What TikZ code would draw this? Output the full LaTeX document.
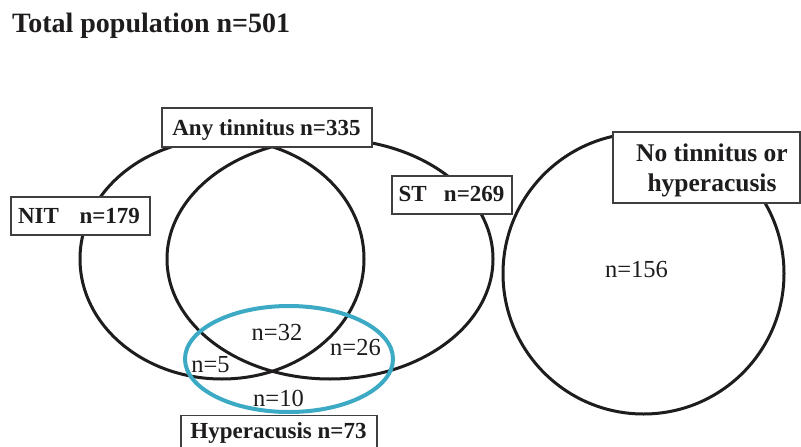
\documentclass[tikz,border=0pt]{standalone}
\usepackage{fontspec}
\setmainfont{Liberation Serif}
\definecolor{hypcyan}{RGB}{60,170,196}
\definecolor{inkblack}{RGB}{30,28,28}
\begin{document}
\begin{tikzpicture}[x=1pt,y=-1pt,
  vennline/.style={line width=3pt, draw=inkblack},
  hypline/.style={line width=4pt, draw=hypcyan},
  labelbox/.style={draw=inkblack!85, line width=1.3pt, fill=white, inner sep=0pt},
  boxtext/.style={font=\fontsize{23}{30}\selectfont\bfseries, text=inkblack, inner sep=0pt, align=center},
  bigboxtext/.style={font=\fontsize{25.5}{30}\selectfont\bfseries, text=inkblack, inner sep=0pt, align=center},
  counttext/.style={font=\fontsize{24.5}{28}\selectfont, text=inkblack, inner sep=0pt}]
\clip (0,0) rectangle (801,447);
\fill[white] (0,0) rectangle (801,447);

% title
\node[font=\fontsize{28}{32}\selectfont\bfseries, text=inkblack, inner sep=0pt, anchor=base west] (title) at (12,32) {Total population n=501};

% Venn ellipses
\draw[vennline] (222,259) ellipse [x radius=142, y radius=120];
\draw[vennline] (330,259) ellipse [x radius=163, y radius=120];
\draw[vennline] (643.5,273.5) circle [radius=140.5];
\draw[hypline] (289,359) ellipse [x radius=104, y radius=53];

% boxes
\node[labelbox, minimum width=210pt, minimum height=39pt] (anyb) at (267,127.5) {};
\node[boxtext, anchor=base] (anyt) at (266.5,135.5) {Any tinnitus n=335};

\node[labelbox, minimum width=139pt, minimum height=38pt] (nitb) at (80.5,216) {};
\node[boxtext, anchor=base] (nitt) at (79,223.3) {NIT\hspace{0.9em}n=179};

\node[labelbox, minimum width=120pt, minimum height=38pt] (stb) at (452,195) {};
\node[boxtext, anchor=base] (stt) at (451.5,201.7) {ST\hspace{0.75em}n=269};

\node[labelbox, minimum width=187pt, minimum height=71pt] (nob) at (706.5,167.5) {};
\node[bigboxtext, anchor=base] (not1) at (712,161) {No tinnitus or};
\node[bigboxtext, anchor=base] (not2) at (712,191) {hyperacusis};

\node[labelbox, minimum width=196pt, minimum height=45pt, anchor=north] (hypb) at (279,415) {};
\node[boxtext, anchor=base] (hypt) at (278.5,438) {Hyperacusis n=73};

% counts
\node[counttext, anchor=base] (c32) at (277,340) {n=32};
\node[counttext, anchor=base] (c26) at (355.5,355) {n=26};
\node[counttext, anchor=base] (c5) at (210.5,372) {n=5};
\node[counttext, anchor=base] (c10) at (278.5,406) {n=10};
\node[counttext, anchor=base] (c156) at (636.5,277) {n=156};
\end{tikzpicture}
\end{document}
